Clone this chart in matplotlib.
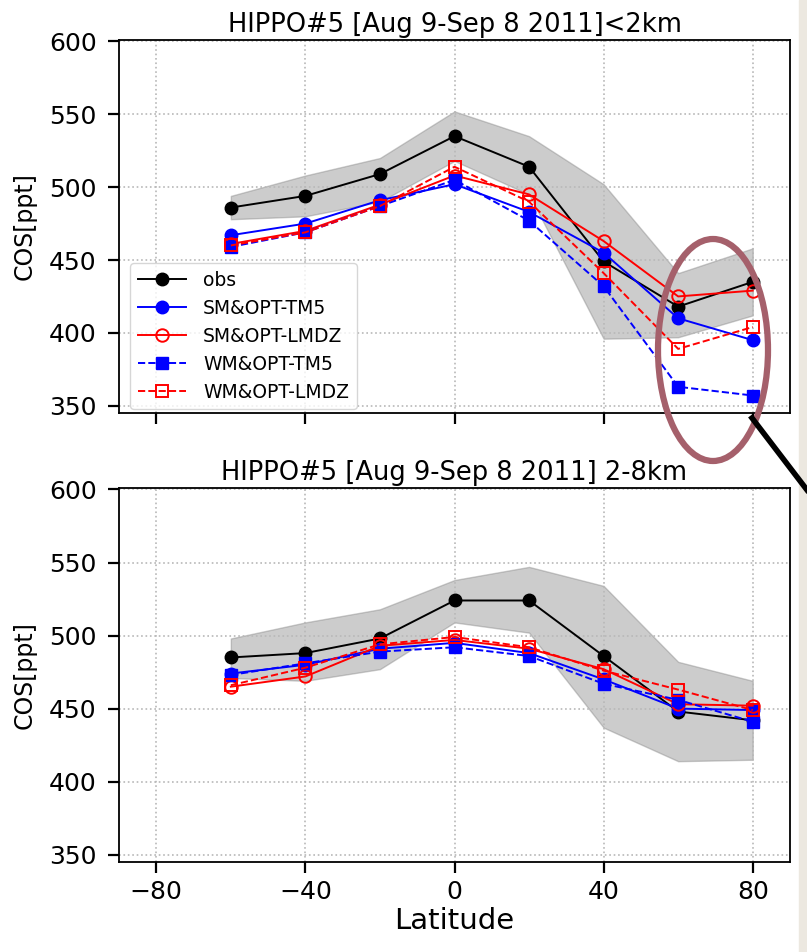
import matplotlib
matplotlib.use("Agg")
import matplotlib.pyplot as plt
from matplotlib.patches import Ellipse, Rectangle
from matplotlib.lines import Line2D

# Latitude bands (deg)
lat = [-60, -40, -20, 0, 20, 40, 60, 80]

# HIPPO#5, below 2 km
obs_low = [486, 494, 509, 535, 514, 449, 418, 435]
obs_low_hi = [494, 508, 520, 552, 535, 502, 441, 458]
obs_low_lo = [478, 480, 490, 518, 495, 396, 397, 412]
sm_tm5_low = [467, 475, 491, 502, 483, 455, 410, 395]
sm_lmdz_low = [461, 470, 488, 508, 495, 463, 425, 429]
wm_tm5_low = [459, 469, 487, 505, 477, 432, 363, 357]
wm_lmdz_low = [460, 469, 487, 514, 490, 441, 389, 404]

# HIPPO#5, 2-8 km
obs_mid = [485, 488, 498, 524, 524, 486, 448, 442]
obs_mid_hi = [498, 509, 518, 538, 547, 534, 482, 469]
obs_mid_lo = [471, 469, 477, 509, 502, 437, 414, 415]
sm_tm5_mid = [474, 480, 491, 495, 488, 470, 450, 449]
sm_lmdz_mid = [465, 472, 493, 497, 491, 477, 453, 452]
wm_tm5_mid = [473, 481, 489, 492, 486, 467, 456, 441]
wm_lmdz_mid = [466, 478, 494, 499, 492, 476, 463, 449]

titles = ["HIPPO#5 [Aug 9-Sep 8 2011]<2km", "HIPPO#5 [Aug 9-Sep 8 2011] 2-8km"]
xticks = [-80, -40, 0, 40, 80]
yticks = [350, 400, 450, 500, 550, 600]

W, H = 807, 952
fig = plt.figure(figsize=(W / 100, H / 100), dpi=100)

left, width = 119 / W, 671 / W
ax1 = fig.add_axes([left, 1 - 413 / H, width, 373 / H])
ax2 = fig.add_axes([left, 1 - 862 / H, width, 374 / H])

panels = [
    (ax1, obs_low, obs_low_lo, obs_low_hi, sm_tm5_low, sm_lmdz_low, wm_tm5_low, wm_lmdz_low),
    (ax2, obs_mid, obs_mid_lo, obs_mid_hi, sm_tm5_mid, sm_lmdz_mid, wm_tm5_mid, wm_lmdz_mid),
]

for i, (ax, obs, lo, hi, smt, sml, wmt, wml) in enumerate(panels):
    ax.fill_between(lat, lo, hi, color="gray", alpha=0.4, lw=1, zorder=1)
    ax.plot(lat, obs, "-o", color="black", ms=9, lw=1.4, label="obs", zorder=3)
    ax.plot(lat, smt, "-o", color="blue", ms=9, lw=1.4, label="SM&OPT-TM5", zorder=3)
    ax.plot(lat, sml, "-o", color="red", mfc="none", ms=9, mew=1.4, lw=1.4,
            label="SM&OPT-LMDZ", zorder=3)
    ax.plot(lat, wmt, "--s", color="blue", ms=8.5, lw=1.4, label="WM&OPT-TM5", zorder=3)
    ax.plot(lat, wml, "--s", color="red", mfc="none", ms=8.5, mew=1.4, lw=1.4,
            label="WM&OPT-LMDZ", zorder=3)

    ax.set_xlim(-90, 90)
    ax.set_ylim(345, 601)
    ax.set_xticks(xticks)
    ax.set_yticks(yticks)
    ax.grid(True, linestyle=":", color="#b8b8b8", lw=1.2)
    ax.tick_params(direction="out", length=8, width=1.6, labelsize=18)
    ax.tick_params(axis="y", pad=8)
    ax.tick_params(axis="x", pad=5)
    for s in ax.spines.values():
        s.set_linewidth(1.3)
    ax.set_ylabel("COS[ppt]", fontsize=17, labelpad=9)
    ax.set_title(titles[i], fontsize=18.5, pad=6)

ax1.tick_params(labelbottom=False)
ax2.set_xlabel("Latitude", fontsize=21, labelpad=2)
ax1.legend(loc="lower left", bbox_to_anchor=(11 / 671, 4 / 373), borderaxespad=0,
           fontsize=13.5, handlelength=2.6, labelspacing=0.48, handletextpad=0.9)

# Highlight of the northern high-latitude points
fig.add_artist(Ellipse((713 / W, 1 - 350 / H), 110 / W, 222 / H,
                       transform=fig.transFigure, fill=False,
                       ec="#a5606b", lw=4.5, zorder=10))
fig.add_artist(Line2D([752 / W, 1.0], [1 - 418 / H, 1 - 490 / H],
                      transform=fig.transFigure, color="black", lw=4, zorder=10))

# Edge strip of the page
fig.add_artist(Rectangle((799 / W, 0), 8 / W, 1, transform=fig.transFigure,
                         color="#ece8e0", zorder=0))

fig.savefig("out.png", dpi=100)
